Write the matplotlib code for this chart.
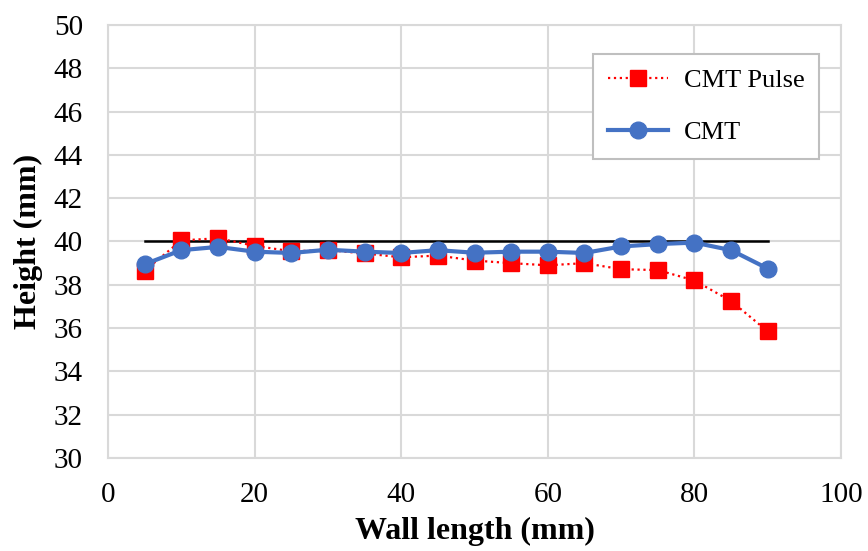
#!/usr/bin/env python3
# -*- coding: utf-8 -*-

import matplotlib
matplotlib.use('Agg')
import matplotlib.pyplot as plt

# 数据
wall_length = [5, 10, 15, 20, 25, 30, 35, 40, 45, 50, 55, 60, 65, 70, 75, 80, 85, 90]
cmt_pulse = [38.65, 40.05, 40.15, 39.8, 39.55, 39.6, 39.45, 39.27, 39.35, 39.12,
             39.0, 38.9, 39.0, 38.72, 38.68, 38.2, 37.25, 35.85]
cmt = [38.95, 39.6, 39.75, 39.53, 39.47, 39.62, 39.53, 39.47, 39.6, 39.48,
       39.53, 39.53, 39.47, 39.77, 39.88, 39.95, 39.6, 38.75]
target_x = [5, 90]
target_y = [40, 40]

plt.rcParams['font.family'] = ['Liberation Serif', 'DejaVu Serif']

fig = plt.figure(figsize=(8.68, 5.51), dpi=100)
ax = fig.add_axes([108 / 868, 1 - 458 / 551, (841 - 108) / 868, (458 - 25) / 551])

grid_color = '#d9d9d9'

ax.plot(target_x, target_y, color='black', linewidth=1.8, zorder=2)
ax.plot(wall_length, cmt_pulse, color='#ff0000', linestyle=':', linewidth=1.6,
        marker='s', markersize=11, label='CMT Pulse', zorder=3)
ax.plot(wall_length, cmt, color='#4472c4', linestyle='-', linewidth=3,
        marker='o', markersize=12, label='CMT', zorder=4)

ax.set_xlim(0, 100)
ax.set_ylim(30, 50)
ax.set_xticks(range(0, 101, 20))
ax.set_yticks(range(30, 51, 2))
ax.grid(True, color=grid_color, linewidth=1.5)
ax.set_axisbelow(True)
for s in ax.spines.values():
    s.set_color(grid_color)
    s.set_linewidth(1.5)
ax.tick_params(length=0, labelsize=21)
ax.tick_params(axis='x', pad=17)
ax.tick_params(axis='y', pad=18)

ax.set_xlabel('Wall length (mm)', fontsize=23, fontweight='bold', labelpad=7)
ax.set_ylabel('Height (mm)', fontsize=23, fontweight='bold', labelpad=8)

leg = ax.legend(loc='upper left', bbox_to_anchor=(593 / 868, 1 - 54 / 551),
                bbox_transform=fig.transFigure, borderaxespad=0, fontsize=19,
                frameon=True, fancybox=False, edgecolor='#bfbfbf',
                handlelength=2.3, labelspacing=1.1, borderpad=0.55,
                handletextpad=0.6, framealpha=1)
leg.get_frame().set_linewidth(1.5)

plt.savefig('out.png', dpi=100)
